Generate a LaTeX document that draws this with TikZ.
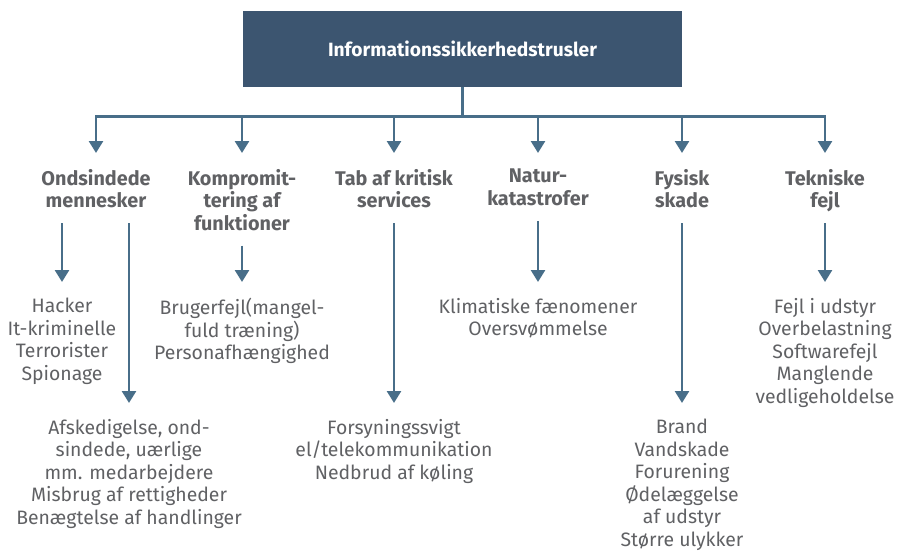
\documentclass[tikz,border=0pt]{standalone}
\usepackage{fontspec}
\setmainfont{Fira Sans}
\usepackage{tikz}
\usetikzlibrary{arrows.meta, positioning, calc}
\definecolor{boxblue}  {RGB}{60,  85,  112}
\definecolor{lineblue} {RGB}{72,  110, 137}
\definecolor{textgray} {RGB}{96,  97,  100}

\begin{document}
\begin{tikzpicture}[x=1pt, y=-1pt,
	line/.style={draw=lineblue, line width=2.6pt},
	arr/.style={line, -{Triangle[width=14pt,length=12pt]}, shorten >=16pt},
	sub/.style={arr, shorten <=8.5pt},
	txt/.style={anchor=north, inner sep=0pt, align=center, text=textgray,
		font=\fontsize{19.4}{22.5}\selectfont,
		execute at begin node=\strut, execute at end node=\strut},
	cat/.style={txt, font=\fontsize{19.8}{22.5}\selectfont\bfseries}]
						\useasboundingbox (0,0) rectangle (897,551);
						\node[fill=boxblue, minimum width=439pt, minimum height=76pt, text=white,
							font=\fontsize{19.2}{22.5}\selectfont\bfseries] (top) at (462.5,49) {Informationssikkerhedstrusler};
						\foreach \n/\x/\t in {ond/96/{Ondsindede\\mennesker}, komp/242/{Kompromit-\\tering af\\funktioner},
							tab/394/{Tab af kritisk\\services}, natur/538/{Natur-\\katastrofer},
							fys/682/{Fysisk\\skade}, tek/825/{Tekniske\\fejl}}{\node[cat] (\n) at (\x,169) {\t};}
						\draw[line] (top.south) -- ++(0,29) coordinate (bus);
						\foreach \n in {ond,komp,tab,natur,fys,tek}{\draw[arr] (bus) -| (\n.north);}
						\node[txt] (hack) at (62,298) {Hacker\\It-kriminelle\\Terrorister\\Spionage};
						\node[txt] (afsk) at (129,419) {Afskedigelse, ond-\\sindede, uærlige\\mm. medarbejdere\\Misbrug af rettigheder\\Benægtelse af handlinger};
						\node[txt] (bruger) at (242,298) {Brugerfejl(mangel-\\fuld træning)\\Personafhængighed};
						\node[txt] (forsyn) at (394,419) {Forsyningssvigt\\el/telekommunikation\\Nedbrud af køling};
						\node[txt] (klima) at (538,298) {Klimatiske fænomener\\Oversvømmelse};
						\node[txt] (brand) at (682,419) {Brand\\Vandskade\\Forurening\\Ødelæggelse\\af udstyr\\Større ulykker};
						\node[txt] (fejl) at (825,298) {Fejl i udstyr\\Overbelastning\\Softwarefejl\\Manglende\\vedligeholdelse};
						\draw[sub] (ond.south -| hack.north) -- (hack.north);
						\draw[sub] (ond.south -| afsk.north) -- (afsk.north);
						\draw[sub] (komp.south) -- (bruger.north);
						\draw[sub] (tab.south) -- (forsyn.north);
						\draw[sub] (natur.south) -- (klima.north);
						\draw[sub] (fys.south) -- (brand.north);
						\draw[sub] (tek.south) -- (fejl.north);
					\end{tikzpicture}
\end{document}
